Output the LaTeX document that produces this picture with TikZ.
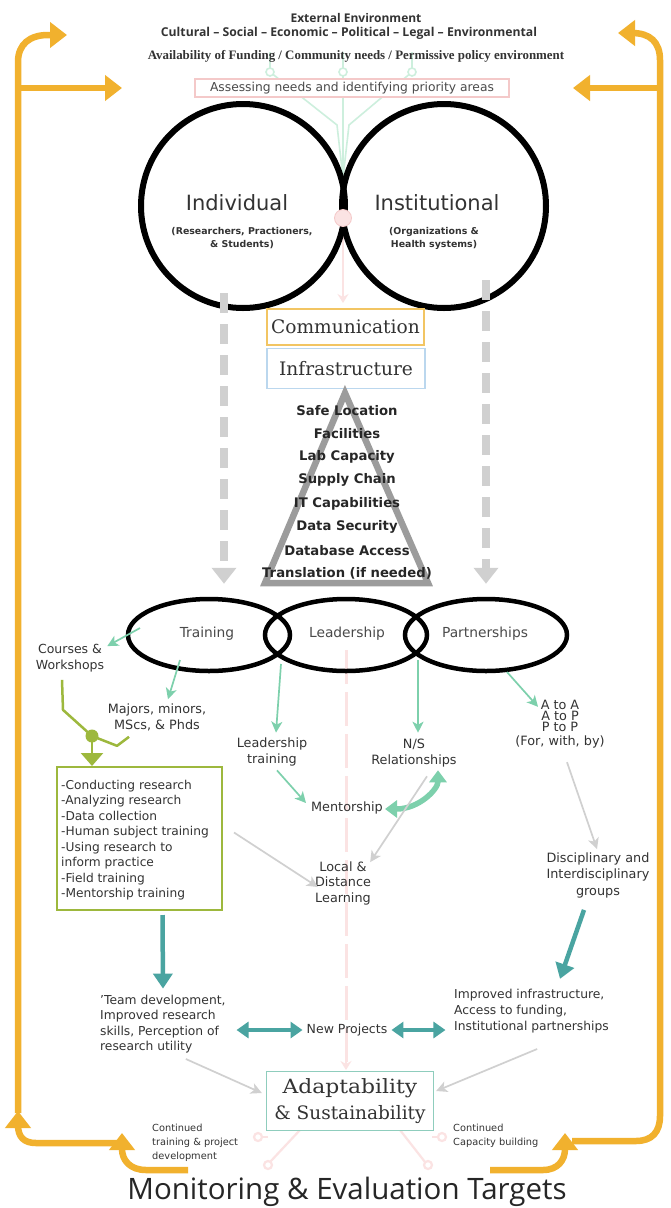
\documentclass[tikz,border=0pt]{standalone}
\usepackage{fontspec}
\setmainfont{DejaVu Sans}
\newfontfamily\dserif{DejaVu Serif}
\newfontfamily\osans{Open Sans}
\newfontfamily\lserif{Liberation Serif}
\usetikzlibrary{arrows.meta,shapes.geometric,calc}
\definecolor{gold}{HTML}{F1B12E}
\definecolor{mint}{HTML}{7DD0AC}
\definecolor{mintfaint}{HTML}{CDEFDD}
\definecolor{tealc}{HTML}{4AA4A1}
\definecolor{olivec}{HTML}{9DB83D}
\definecolor{lgray}{HTML}{D0D0D0}
\definecolor{pinkl}{HTML}{F4C9C9}
\definecolor{pinkf}{HTML}{FBE3E3}
\definecolor{txt}{HTML}{333333}
\definecolor{txtl}{HTML}{4A4A4A}
\definecolor{trigray}{HTML}{9C9C9C}
\definecolor{commc}{HTML}{F2C563}
\definecolor{infrac}{HTML}{BBD7EE}
\definecolor{adaptc}{HTML}{8FCDBD}
\newcommand{\fsz}[2]{\fontsize{#1}{#2}\selectfont}
\tikzset{
  lbl/.style={inner sep=0pt, text=txt, align=center, font=\fsz{12.5}{15.5}},
  goldline/.style={draw=gold, line width=6.5pt},
  goldtip/.style={-{Triangle[length=17pt,width=25pt]}},
  mintarrow/.style={draw=mint, line width=1.7pt, -{Stealth[length=11pt,width=11pt,inset=3pt]}},
  grayarrow/.style={draw=lgray, line width=1.7pt, -{Stealth[length=11pt,width=11pt,inset=3pt]}},
  tealarrow/.style={draw=tealc, line width=4.5pt, -{Triangle[length=15pt,width=19pt]}},
  tealdouble/.style={draw=tealc, line width=4.5pt, {Triangle[length=12pt,width=16pt]}-{Triangle[length=12pt,width=16pt]}},
  bigcirc/.style={circle, draw=black, line width=6pt, minimum size=204pt, inner sep=0pt},
  ovl/.style={ellipse, draw=black, line width=4.5pt, minimum width=162pt, minimum height=72pt, inner sep=0pt},
  dasharrow/.style={draw=lgray, line width=8pt, dash pattern=on 20pt off 11pt, -{Triangle[length=16pt,width=24pt]}},
  faintmint/.style={draw=mintfaint, line width=1.6pt},
  faintpink/.style={draw=pinkf, line width=2.2pt},
}
\begin{document}
\begin{tikzpicture}[x=1pt,y=-1pt]
\useasboundingbox (0,0) rectangle (671,1208);
\fill[white] (0,0) rectangle (671,1208);

% faint background guides
\draw[faintmint] (270,52) -- (270,72) -- (337,125) -- (343,178);
\draw[faintmint] (343,52) -- (343,178);
\draw[faintmint] (412,52) -- (412,72) -- (349,125) -- (343,178);
\foreach \xx in {270,343,412} \draw[faintmint, fill=white] (\xx,72) circle (4);
\draw[faintpink, line width=3pt, dash pattern=on 34pt off 8pt] (346,650) -- (346,1062);
\draw[faintpink, -{Stealth[length=9pt,width=11pt,inset=3pt]}] (346,1040) -- (346,1070);
\draw[faintpink, -{Stealth[length=9pt,width=11pt,inset=3pt]}] (343,225) -- (343,303);
\draw[faintpink] (300,1130) -- (270,1162);
\draw[faintpink] (400,1130) -- (425,1162);
\draw[faintpink] (268,1137) -- (262,1137);
\draw[faintpink] (432,1137) -- (438,1137);
\foreach \px/\py in {258/1137,268/1165,442/1137,428/1165} \draw[faintpink, fill=white] (\px,\py) circle (4);

% header texts
\node[inner sep=0pt, text=txt, font=\osans\bfseries\fsz{12}{14}] (ext) at (356,18) {External Environment};
\node[inner sep=0pt, text=txt, font=\osans\bfseries\fsz{12.2}{14}] (cult) at (349,33) {Cultural – Social – Economic – Political – Legal – Environmental};
\node[inner sep=0pt, text=txt, font=\lserif\bfseries\fsz{12.9}{14}] (avail) at (356,56) {Availability of Funding / Community needs / Permissive policy environment};
\node[draw=pinkl, line width=1.2pt, fill=white, minimum width=314pt, minimum height=18pt, inner sep=0pt, text=txtl, font=\fsz{12.3}{14}] (assess) at (352,88) {Assessing needs and identifying priority areas};

% orange feedback loops
\draw[goldline, goldtip] (18,1113) -- (18,62) .. controls (18,44) and (30,35) .. (48,35) -- (67,35);
\draw[goldline, goldtip] (18,88) -- (122,88);
\draw[goldline, goldtip] (118,1143) -- (36,1143) .. controls (24,1143) and (18,1137) .. (18,1125) -- (18,1111);
\draw[goldline, goldtip] (188,1170) -- (146,1170) .. controls (130,1170) and (122,1160) .. (122,1133);
\draw[goldline, goldtip] (572,1141) -- (636,1141) .. controls (652,1141) and (660,1132) .. (660,1116) -- (660,60) .. controls (660,42) and (650,33) .. (632,33) -- (618,33);
\draw[goldline, goldtip] (660,88) -- (573,88);
\draw[goldline, goldtip] (490,1170) -- (543,1170) .. controls (558,1170) and (565,1160) .. (565,1133);

% big circles
\node[bigcirc] (ind) at (243,206) {};
\node[bigcirc] (inst) at (444,206) {};
\node[circle, fill=pinkf, draw=pinkl, line width=0.8pt, minimum size=17pt, inner sep=0pt] (pc) at (343,218) {};
\node[inner sep=0pt, text=txt, font=\fsz{21}{24}] (indt) at (237,203) {Individual};
\node[inner sep=0pt, text=txt, align=center, font=\bfseries\fsz{9.4}{13}] (inds) at (242,238) {(Researchers, Practioners,\\\& Students)};
\node[inner sep=0pt, text=txt, font=\fsz{21}{24}] (instt) at (437,203) {Institutional};
\node[inner sep=0pt, text=txt, align=center, font=\bfseries\fsz{9.4}{13}] (insts) at (434,238) {(Organizations \&\\Health systems)};

% communication / infrastructure
\node[draw=commc, line width=1.3pt, fill=white, minimum width=157pt, minimum height=36pt, inner sep=0pt, text=txt, font=\dserif\fsz{18.6}{20}] (comm) at (345.5,327) {Communication};
\node[draw=infrac, line width=1.3pt, fill=white, minimum width=158pt, minimum height=40pt, inner sep=0pt, text=txt, font=\dserif\fsz{18.6}{20}] (infra) at (346,368.5) {Infrastructure};

% dashed gray arrows
\node[ovl, draw=none] (trpos) at (209,635) {};
\node[ovl, draw=none] (ptpos) at (486,635) {};
\draw[dasharrow] ($(ind.center)+(-19,87)$) -- ($(trpos.north)+(15,-13)$);
\draw[dasharrow] ($(inst.center)+(42,74)$) -- ($(ptpos.north)+(0,-13)$);

% triangle
\draw[draw=trigray, line width=6.5pt, line join=miter] ($(infra.south)+(-1,4)$) -- (265,583) -- (428,583) -- cycle;
\foreach \t [count=\i] in {Safe Location,Facilities,Lab Capacity,Supply Chain,IT Capabilities,Data Security,Database Access,Translation (if needed)}
  \node[inner sep=0pt, text=black!85, font=\bfseries\fsz{13.2}{14}] (tri\i) at (347,{387+23.3*\i}) {\t};

% three ellipses
\node[ovl] (tr) at (209,635) {};
\node[ovl] (ld) at (346,635) {};
\node[ovl] (pt) at (486,635) {};
\node[inner sep=0pt, text=txtl, font=\fsz{13.8}{16}] (trt) at (207,634) {Training};
\node[inner sep=0pt, text=txtl, font=\fsz{13.8}{16}] (ldt) at (347,634) {Leadership};
\node[inner sep=0pt, text=txtl, font=\fsz{13.8}{16}] (ptt) at (485,634) {Partnerships};

% second level texts
\node[lbl] (courses) at (70,658) {Courses \&\\Workshops};
\node[lbl, font=\fsz{12.8}{16}] (majors) at (157,717) {Majors, minors,\\MScs, \& Phds};
\node[lbl, font=\fsz{12.8}{16}] (ldtrain) at (272,752) {Leadership\\training};
\node[lbl, font=\fsz{12.8}{16}] (ns) at (414,753) {N/S\\Relationships};
\node[lbl, font=\fsz{12.8}{11}] (atoa) at (560,724) {A to A\\A to P\\P to P\\[3pt](For, with, by)};
\node[lbl, font=\fsz{12.8}{16}] (ment) at (347,808) {Mentorship};
\node[lbl, font=\fsz{12.8}{15.5}] (local) at (343,883) {Local \&\\Distance\\Learning};
\node[lbl, font=\fsz{12.8}{16.5}] (disc) at (598,875) {Disciplinary and\\Interdisciplinary\\groups};

% research box
\node[draw=olivec, line width=2pt, minimum width=165pt, minimum height=143pt, inner sep=0pt] (rbox) at (139.5,838.5) {};
\node[inner sep=0pt, text=txt, align=left, anchor=north west, font=\fsz{12.2}{15.5}] (rtext) at (61,780) {-Conducting research\\-Analyzing research\\-Data collection\\-Human subject training\\-Using research to\\inform practice\\-Field training\\-Mentorship training};

% olive connector
\coordinate (jn) at (92,736);
\draw[draw=olivec, line width=2.5pt, line join=round] ($(courses.south)+(-8,8)$) -- ($(courses.south)+(-7,38)$) -- (jn);
\draw[draw=olivec, line width=2.5pt, line join=round] ($(majors.south)+(-28,6)$) -- ($(majors.south)+(-40,15)$) -- (jn);
\fill[olivec] (jn) circle (6.5);
\draw[draw=olivec, line width=2.5pt, -{Triangle[length=13pt,width=22pt]}] (jn) -- (jn |- rbox.north);

% mint arrows
\draw[mintarrow] ($(tr.center)+(-69,-7)$) -- ($(courses.north east)+(3,2)$);
\draw[mintarrow] ($(tr.center)+(-29,25)$) -- ($(majors.north)+(11,-4)$);
\draw[mintarrow] ($(tr.center)+(72,29)$) -- ($(ldtrain.north)+(4,-5)$);
\draw[mintarrow] ($(ld.center)+(72,25)$) -- ($(ns.north)+(4,-6)$);
\draw[mintarrow] ($(pt.center)+(21,37)$) -- ($(atoa.north)+(-22,7)$);
\draw[mintarrow] ($(ldtrain.south)+(5,4)$) -- ($(ment.west)+(-5,-5)$);
\draw[draw=mint, line width=5.5pt, {Triangle[length=12pt,width=17pt]}-{Triangle[length=12pt,width=17pt]}] ($(ment.east)+(2,1)$) .. controls ($(ment.east)+(36,1)$) and ($(ns.south)+(24,22)$) .. ($(ns.south)+(24,3)$);

% gray arrows
\draw[grayarrow] ($(ns.south)+(13,9)$) -- ($(local.north east)+(-1,1)$);
\draw[grayarrow] ($(rbox.east)+(11,-6)$) -- ($(local.west)+(3,4)$);
\draw[grayarrow] ($(atoa.south)+(7,14)$) -- ($(disc.north)+(-1,-3)$);

% bottom texts
\node[inner sep=0pt, text=txt, align=left, anchor=west, font=\fsz{12.3}{15.5}] (team) at (100,1024) {'Team development,\\Improved research\\skills, Perception of\\research utility};
\node[lbl] (newp) at (347,1030) {New Projects};
\node[inner sep=0pt, text=txt, align=left, anchor=west, font=\fsz{12.3}{16}] (impr) at (454,1011) {Improved infrastructure,\\Access to funding,\\Institutional partnerships};
\node[draw=adaptc, line width=1.3pt, fill=white, minimum width=167pt, minimum height=59pt, inner sep=0pt, text=txt, align=center, font=\dserif\fsz{18.5}{26}] (adapt) at (350,1101) {\scalebox{1.18}[1.06]{Adaptability}\\\& Sustainability};
\node[inner sep=0pt, text=txt, align=left, anchor=west, font=\fsz{9.8}{14}] (cont1) at (152,1143) {Continued\\training \& project\\development};
\node[inner sep=0pt, text=txt, align=left, anchor=west, font=\fsz{9.8}{14}] (cont2) at (453,1136) {Continued\\Capacity building};
\node[inner sep=0pt, text=black!85, font=\osans\fsz{29.5}{32}] (monit) at (347,1192) {Monitoring \& Evaluation Targets};

% teal arrows
\draw[tealarrow] ($(rbox.south)+(23,4)$) -- ($(team.north west)+(63,-6)$);
\draw[tealarrow] ($(disc.south)+(-14,12)$) -- ($(impr.north west)+(106,-10)$);
\draw[tealdouble] ($(newp.west)+(-70,0)$) -- ($(newp.west)+(-4,0)$);
\draw[tealdouble] ($(newp.east)+(4,0)$) -- ($(newp.east)+(58,0)$);

% gray arrows to adaptability
\draw[grayarrow] ($(adapt.west)+(-80,-42)$) -- ($(adapt.west)+(-4,-8)$);
\draw[grayarrow] ($(adapt.east)+(103,-52)$) -- ($(adapt.east)+(2,-10)$);
\end{tikzpicture}
\end{document}
